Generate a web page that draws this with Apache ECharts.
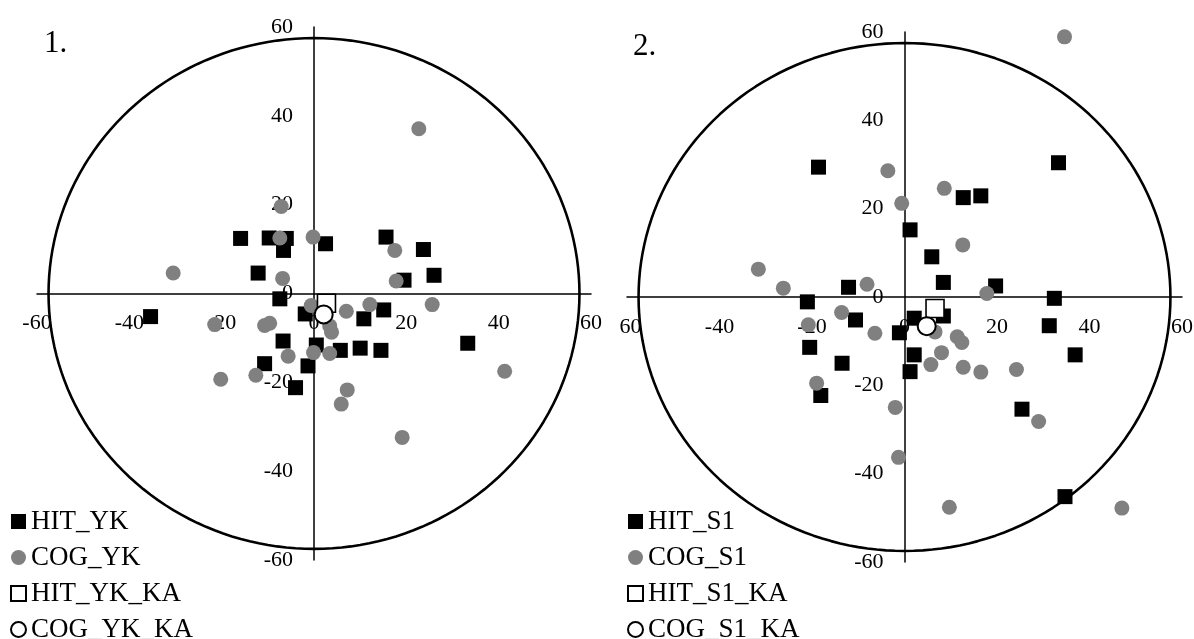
<!DOCTYPE html>
<html>
<head>
<meta charset="utf-8">
<script src="https://cdn.jsdelivr.net/npm/echarts@6/dist/echarts.min.js"></script>
<style>
html,body{margin:0;padding:0;background:#fff;}
#chart{width:1194px;height:639px;}
</style>
</head>
<body>
<div id="chart"></div>
<script>
// ---- Data ----
const HIT_YK = [[-35.4,-5.2],[-15.9,12.4],[-9.7,12.5],[-6.0,12.4],[-6.6,9.7],[-12.1,4.6],[-7.4,-1.2],[-1.9,-4.6],[-6.7,-10.7],[0.5,-11.6],[-10.7,-15.8],[-1.3,-16.3],[-4.0,-21.2],[2.5,11.2],[15.6,12.7],[23.7,9.9],[26.0,4.1],[19.5,3.0],[15.1,-3.7],[10.8,-5.7],[5.7,-12.8],[10.0,-12.3],[14.5,-12.8],[33.3,-11.2]];
const COG_YK = [[-30.5,4.6],[-7.1,19.6],[-7.4,12.5],[-0.2,12.7],[-6.8,3.4],[-21.5,-7.0],[-10.7,-7.2],[-9.6,-6.7],[-0.6,-2.7],[17.5,9.7],[17.8,2.8],[25.6,-2.5],[12.1,-2.5],[7.0,-4.0],[3.4,-7.3],[3.8,-8.7],[-0.1,-13.3],[3.4,-13.5],[7.2,-21.7],[5.9,-24.9],[-5.6,-14.1],[-12.6,-18.4],[-20.2,-19.3],[22.7,37.1],[41.3,-17.5],[19.1,-32.4]];
const HIT_YK_KA = [[2.7,-2.2]];
const COG_YK_KA = [[2.1,-4.7]];

const HIT_S1 = [[-18.6,29.4],[-21.0,-1.1],[-12.1,2.2],[-10.6,-5.2],[-20.5,-11.4],[-13.5,-15.0],[-18.1,-22.3],[-1.1,-8.1],[1.2,15.2],[5.9,9.1],[8.4,3.3],[12.7,22.5],[16.5,22.9],[33.3,30.4],[19.7,2.5],[32.4,-0.3],[31.3,-6.5],[2.1,-4.8],[8.4,-4.3],[2.1,-13.1],[1.2,-16.9],[25.4,-25.4],[36.9,-13.1],[34.7,-45.2]];
const COG_S1 = [[-31.6,6.3],[-26.2,2.0],[-8.1,2.9],[-13.6,-3.5],[-3.6,28.6],[34.6,58.9],[-0.6,21.2],[8.6,24.6],[12.6,11.8],[17.8,0.8],[-20.8,-6.3],[-6.4,-8.2],[-19.0,-19.5],[-2.0,-25.0],[-1.3,-36.3],[9.7,-47.6],[47.0,-47.8],[29.0,-28.2],[24.2,-16.4],[16.5,-17.0],[12.7,-15.9],[5.7,-15.3],[8.0,-12.6],[11.4,-9.0],[12.4,-10.3],[6.6,-7.9]];
const HIT_S1_KA = [[6.6,-2.6]];
const COG_S1_KA = [[4.8,-6.6]];

const PANEL_TITLES = ['1.', '2.'];
const AXIS_MIN = -60, AXIS_MAX = 60, AXIS_STEP = 20;
const CIRCLE_RADIUS = 57.5;

// reference circle outline (geometry, not data)
const circlePts = [];
for (let a = 0; a <= 360; a += 2) {
  const r = a * Math.PI / 180;
  circlePts.push([CIRCLE_RADIUS * Math.cos(r), CIRCLE_RADIUS * Math.sin(r)]);
}

const FONT = "'Liberation Serif','Times New Roman',serif";

const GRIDS = [
  {left: 37, top: 27, width: 554, height: 533},
  {left: 627, top: 32, width: 555, height: 530}
];

function xAxisFor(idx) {
  return {
    type: 'value', gridIndex: idx, min: AXIS_MIN, max: AXIS_MAX, interval: AXIS_STEP,
    position: 'bottom', offset: -GRIDS[idx].height / 2,
    splitLine: {show: false},
    axisTick: {show: false},
    axisLine: {onZero: false, lineStyle: {color: '#000', width: 1.5}},
    axisLabel: {
      color: '#000', fontSize: 22, fontFamily: FONT, margin: 19,
      showMinLabel: true, showMaxLabel: true,
      formatter: function (v) {
        if (idx === 1 && v === AXIS_MIN) return '{c|' + Math.abs(v) + '}';
        return String(v);
      },
      rich: {c: {fontSize: 22, fontFamily: FONT, color: '#000', padding: [0, 0, 0, 7]}}
    }
  };
}
function yAxisFor(idx) {
  return {
    type: 'value', gridIndex: idx, min: AXIS_MIN, max: AXIS_MAX, interval: AXIS_STEP,
    position: 'left', offset: -GRIDS[idx].width / 2,
    splitLine: {show: false},
    axisTick: {show: false},
    axisLine: {onZero: false, lineStyle: {color: '#000', width: 1.5}},
    axisLabel: {color: '#000', fontSize: 22, fontFamily: FONT, margin: 21,
      showMinLabel: true, showMaxLabel: true}
  };
}

function panelSeries(idx, names, hit, cog, hitKa, cogKa) {
  return [
    {type: 'line', xAxisIndex: idx, yAxisIndex: idx, data: circlePts, showSymbol: false,
     silent: true, smooth: false, lineStyle: {color: '#000', width: 2.6}, z: 1},
    {name: names[0], type: 'scatter', xAxisIndex: idx, yAxisIndex: idx, data: hit,
     symbol: 'rect', symbolSize: 15, itemStyle: {color: '#000', opacity: 1}},
    {name: names[1], type: 'scatter', xAxisIndex: idx, yAxisIndex: idx, data: cog,
     symbol: 'circle', symbolSize: 15, itemStyle: {color: '#808080', opacity: 1}},
    {name: names[2], type: 'scatter', xAxisIndex: idx, yAxisIndex: idx, data: hitKa,
     symbol: 'rect', symbolSize: 18, itemStyle: {color: '#fff', borderColor: '#000', borderWidth: 1.6, opacity: 1}},
    {name: names[3], type: 'scatter', xAxisIndex: idx, yAxisIndex: idx, data: cogKa,
     symbol: 'circle', symbolSize: 18, itemStyle: {color: '#fff', borderColor: '#000', borderWidth: 2, opacity: 1}}
  ];
}

const names1 = ['HIT_YK', 'COG_YK', 'HIT_YK_KA', 'COG_YK_KA'];
const names2 = ['HIT_S1', 'COG_S1', 'HIT_S1_KA', 'COG_S1_KA'];

function legendFor(left, names) {
  return {
    orient: 'vertical', left: left, top: 508, height: 170, padding: 0,
    itemWidth: 15, itemHeight: 15, itemGap: 9,
    selectedMode: false, data: names,
    textStyle: {color: '#000', fontSize: 27, fontFamily: FONT, lineHeight: 26}
  };
}

const option = {
  animation: false,
  backgroundColor: '#fff',
  textStyle: {fontFamily: FONT},
  title: [
    {text: PANEL_TITLES[0], left: 39, top: 23, textStyle: {fontSize: 31, fontWeight: 'normal', fontFamily: FONT, color: '#000'}},
    {text: PANEL_TITLES[1], left: 628, top: 26, textStyle: {fontSize: 31, fontWeight: 'normal', fontFamily: FONT, color: '#000'}}
  ],
  grid: GRIDS.map(g => Object.assign({containLabel: false, outerBoundsMode: 'none'}, g)),
  xAxis: [xAxisFor(0), xAxisFor(1)],
  yAxis: [yAxisFor(0), yAxisFor(1)],
  legend: [legendFor(10, names1), legendFor(627, names2)],
  series: [].concat(
    panelSeries(0, names1, HIT_YK, COG_YK, HIT_YK_KA, COG_YK_KA),
    panelSeries(1, names2, HIT_S1, COG_S1, HIT_S1_KA, COG_S1_KA)
  )
};

const chart = echarts.init(document.getElementById('chart'), null, {renderer: 'canvas'});
chart.setOption(option);
</script>
</body>
</html>
